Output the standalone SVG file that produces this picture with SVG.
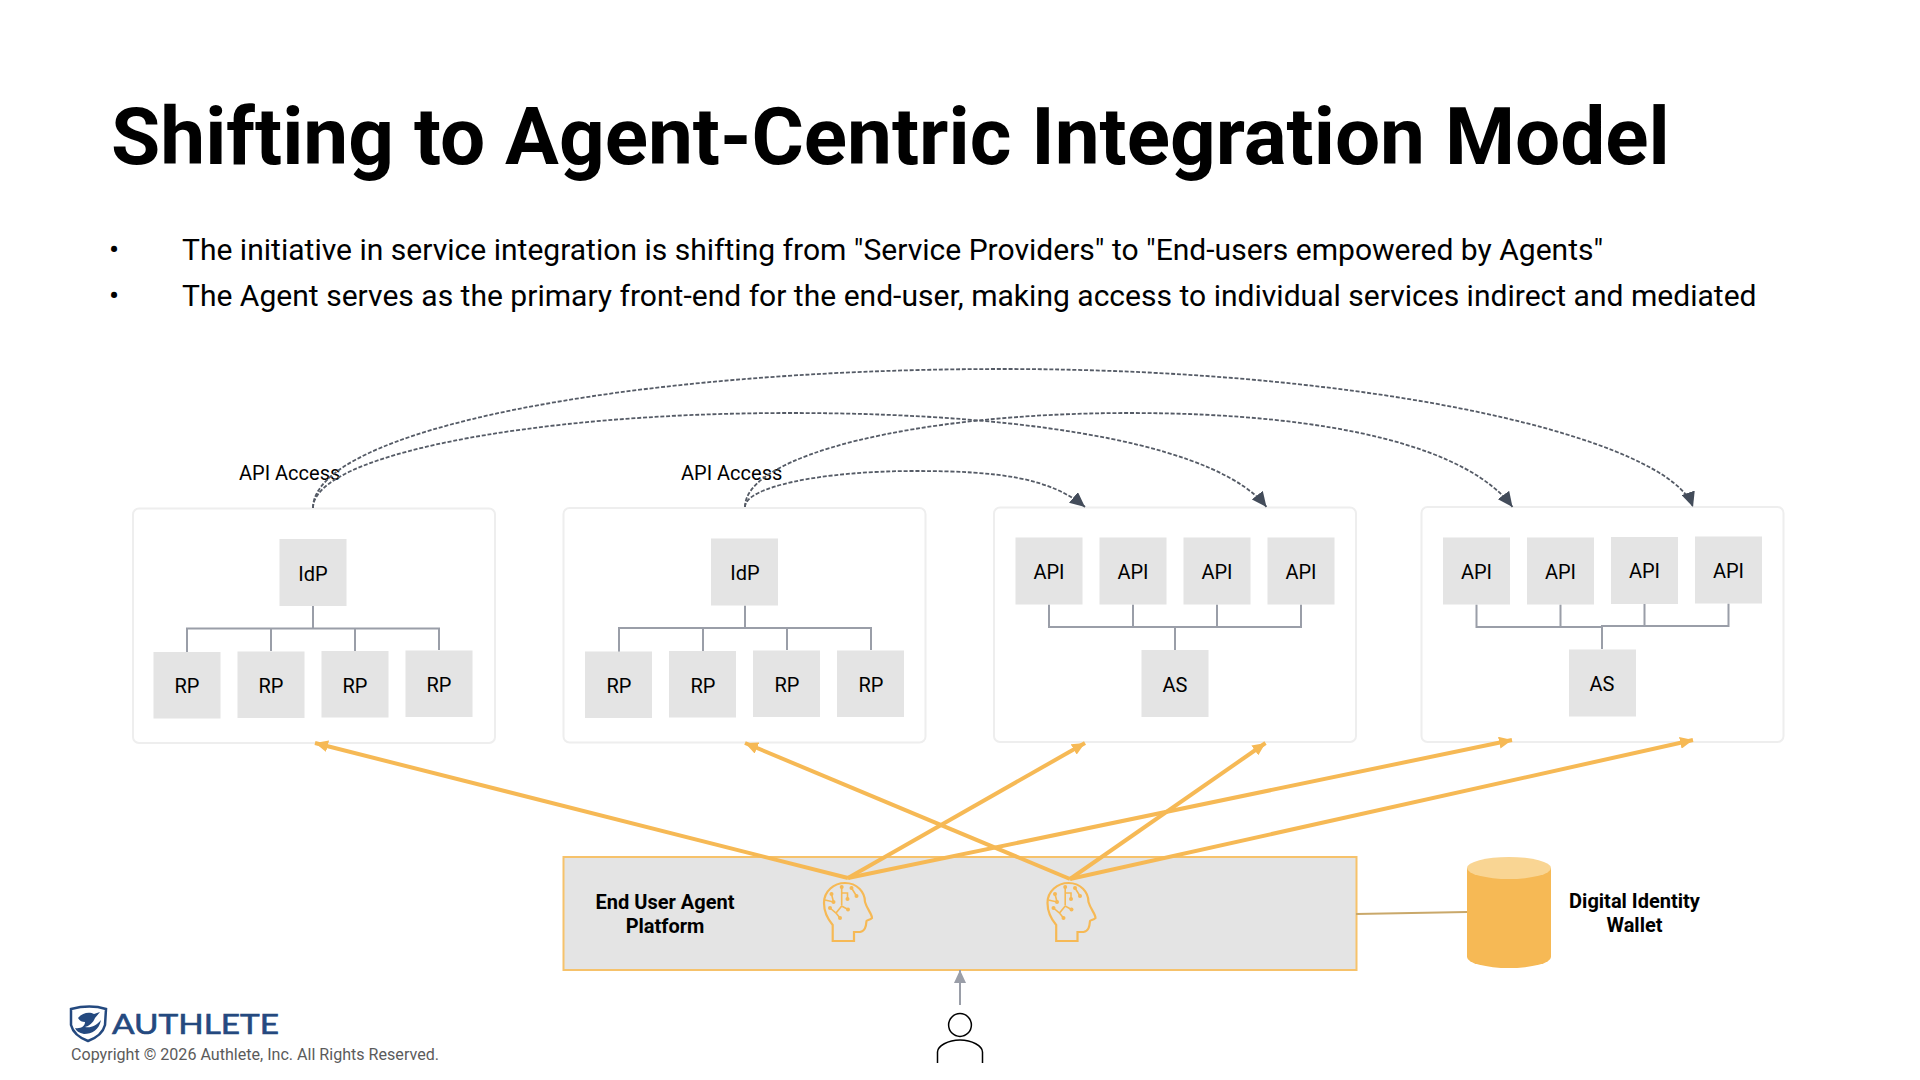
<svg xmlns="http://www.w3.org/2000/svg" width="1920" height="1080" viewBox="0 0 1920 1080">
<style>
text{font-family:Roboto,"Liberation Sans",sans-serif;fill:#000}
.title{font-size:80.100px;font-weight:700}
.bullet{font-size:30.060px}
.lbl{font-size:20px;text-anchor:middle}
.acc{font-size:20px}
.bold{font-size:20px;font-weight:700;text-anchor:middle}
.group{fill:#fff;stroke:#eeeeee;stroke-width:2}
.cell{fill:#e4e4e4}
.tree{fill:none;stroke:#9a9ea8;stroke-width:2}
.dash{fill:none;stroke:#555b66;stroke-width:1.800;stroke-dasharray:4 1.800}
.gold{fill:none;stroke:#f6b955;stroke-width:4}
.ic{fill:none;stroke:#f6b955;stroke-width:2.200}
</style>
<defs>
<marker id="dk" markerUnits="userSpaceOnUse" markerWidth="16" markerHeight="14" refX="15" refY="7" orient="auto"><path d="M0 0L15 7L0 14Z" fill="#434c5a"/></marker>
<marker id="gd" markerUnits="userSpaceOnUse" markerWidth="14" markerHeight="12" refX="13" refY="6" orient="auto"><path d="M0 0L13 6L0 12Z" fill="#f6b955"/></marker>
<marker id="gy" markerUnits="userSpaceOnUse" markerWidth="14" markerHeight="12" refX="13" refY="6" orient="auto"><path d="M0 0L13 6L0 12Z" fill="#9a9ea8"/></marker>
<g id="head">
<path class="ic" d="M832.700 941V925C826 917 824 910 824 903C824 891 834 883 845 883C857 883 865 892 865 902C867 909 872 914 872 918C870 920 867 920 866.500 921C866 927 865 931 860 932L854 932V941Z"/>
<path class="ic" style="stroke-width:1.600" d="M841.700 887V905M841.700 893H847.500V899M851.500 888L856.500 896M831.500 894L833.500 902L825 900M830 908L836 913L841.700 906L848 909.500M836 913L840 918"/>
<g fill="#f6b955"><circle cx="841.700" cy="887" r="2"/><circle cx="847.500" cy="899" r="2"/><circle cx="851.500" cy="888" r="2"/><circle cx="856.500" cy="896" r="2"/><circle cx="831.500" cy="894" r="2"/><circle cx="833.500" cy="902" r="2"/><circle cx="830" cy="908" r="2"/><circle cx="848" cy="909.500" r="2"/><circle cx="840" cy="918" r="2"/></g>
</g>
</defs>
<rect width="1920" height="1080" fill="#fff"/>
<text class="title" x="111" y="164">Shifting to Agent-Centric Integration Model</text>
<text class="bullet" x="109" y="260">•</text>
<text class="bullet" x="182" y="260">The initiative in service integration is shifting from "Service Providers" to "End-users empowered by Agents"</text>
<text class="bullet" x="109" y="306">•</text>
<text class="bullet" x="182" y="306">The Agent serves as the primary front-end for the end-user, making access to individual services indirect and mediated</text>

<g id="idp-group-1">
<rect class="group" x="133" y="508.500" width="362" height="234.500" rx="6"/>
<path class="tree" d="M313 606V628.500M187 652V628.500H439V650M271 651V628.500M355 651V628.500"/>
<rect class="cell" x="279.500" y="539" width="67" height="67"/>
<text class="lbl" x="313" y="581">IdP</text>
<rect class="cell" x="153.500" y="652" width="67" height="66.500"/><text class="lbl" x="187" y="693">RP</text>
<rect class="cell" x="237.500" y="651.500" width="67" height="66.500"/><text class="lbl" x="271" y="693">RP</text>
<rect class="cell" x="321.500" y="651" width="67" height="66.500"/><text class="lbl" x="355" y="693">RP</text>
<rect class="cell" x="405.500" y="650.500" width="67" height="66.500"/><text class="lbl" x="439" y="692">RP</text>
</g>
<g id="idp-group-2">
<rect class="group" x="563.500" y="508" width="362" height="234.500" rx="6"/>
<path class="tree" d="M745 605.500V628M619 652V628H871V650M703 651V628M787 650V628"/>
<rect class="cell" x="711" y="538.500" width="67" height="67"/>
<text class="lbl" x="745" y="580">IdP</text>
<rect class="cell" x="585" y="651.500" width="67" height="66.500"/><text class="lbl" x="619" y="693">RP</text>
<rect class="cell" x="669" y="651" width="67" height="66.500"/><text class="lbl" x="703" y="693">RP</text>
<rect class="cell" x="753" y="650.500" width="67" height="66.500"/><text class="lbl" x="787" y="692">RP</text>
<rect class="cell" x="837" y="650.500" width="67" height="66.500"/><text class="lbl" x="871" y="692">RP</text>
</g>
<g id="api-group-1">
<rect class="group" x="994" y="507.500" width="362" height="234.500" rx="6"/>
<path class="tree" d="M1049 604.500V627H1301V604.500M1133 604.500V627M1217 604.500V627M1175 627V650"/>
<rect class="cell" x="1015.500" y="537.500" width="67" height="67"/><text class="lbl" x="1049" y="579">API</text>
<rect class="cell" x="1099.500" y="537.500" width="67" height="67"/><text class="lbl" x="1133" y="579">API</text>
<rect class="cell" x="1183.500" y="537.500" width="67" height="67"/><text class="lbl" x="1217" y="579">API</text>
<rect class="cell" x="1267.500" y="537.500" width="67" height="67"/><text class="lbl" x="1301" y="579">API</text>
<rect class="cell" x="1141.500" y="650" width="67" height="67"/><text class="lbl" x="1175" y="692">AS</text>
</g>
<g id="api-group-2">
<rect class="group" x="1421.500" y="507" width="362" height="235" rx="6"/>
<path class="tree" d="M1476.500 604.500V627H1602M1560.500 604.500V627M1644.500 603.500V626M1602 649V626H1728.500V603.500"/>
<rect class="cell" x="1443" y="537.500" width="67" height="67"/><text class="lbl" x="1476.500" y="579">API</text>
<rect class="cell" x="1527" y="537.500" width="67" height="67"/><text class="lbl" x="1560.500" y="579">API</text>
<rect class="cell" x="1611" y="537" width="67" height="67"/><text class="lbl" x="1644.500" y="578">API</text>
<rect class="cell" x="1695" y="536.500" width="67" height="67"/><text class="lbl" x="1728.500" y="578">API</text>
<rect class="cell" x="1569" y="649.500" width="67" height="67"/><text class="lbl" x="1602" y="691">AS</text>
</g>
<text class="acc" x="239" y="480">API Access</text>
<text class="acc" x="681" y="480">API Access</text>

<g id="platform">
<rect x="563.500" y="857" width="793" height="113" fill="#e4e4e4" stroke="#f6c26b" stroke-width="2"/>
<text class="bold" x="665" y="909">End User Agent</text>
<text class="bold" x="665" y="933">Platform</text>
</g>
<g id="agent-1"><use href="#head"/></g>
<g id="agent-2"><use href="#head" transform="translate(223.500 0)"/></g>
<g id="wallet">
<path d="M1467 868V957A42 11 0 0 0 1551 957V868Z" fill="#f6b955"/>
<ellipse cx="1509" cy="868" rx="42" ry="11" fill="#f9d593"/>
<text class="bold" x="1634.500" y="908">Digital Identity</text>
<text class="bold" x="1634.500" y="932">Wallet</text>
</g>
<g id="user" fill="none" stroke="#000" stroke-width="1.500">
<circle cx="960" cy="1025" r="11.400"/>
<path d="M937.500 1063V1052C937.500 1046 948 1040 960 1040C972 1040 982.500 1046 982.500 1052V1063"/>
</g>
<g id="connectors">
<path d="M1356 914L1467 912" fill="none" stroke="#c9a86a" stroke-width="2"/>
<path d="M960 1005V970" fill="none" stroke="#9a9ea8" stroke-width="2" marker-end="url(#gy)"/>
<path class="gold" marker-end="url(#gd)" d="M848 878L315 743"/>
<path class="gold" marker-end="url(#gd)" d="M848 878L1085 743"/>
<path class="gold" marker-end="url(#gd)" d="M848 878L1512 740"/>
<path class="gold" marker-end="url(#gd)" d="M1070 879L745 743"/>
<path class="gold" marker-end="url(#gd)" d="M1070 879L1265.500 743"/>
<path class="gold" marker-end="url(#gd)" d="M1070 879L1693 740"/>
<path class="dash" marker-end="url(#dk)" d="M313 508C313 431 622 369 1003 369C1384 369 1670 440 1693 507"/>
<path class="dash" marker-end="url(#dk)" d="M313 508C313 456 527 413 790 413C1053 413 1222 450 1266.500 507"/>
<path class="dash" marker-end="url(#dk)" d="M745 507C745 487 821 471 915 471C1000 471 1050 478 1085 507"/>
<path class="dash" marker-end="url(#dk)" d="M745 507C745 455 917 413 1129 413C1341 413 1470 450 1512.500 507"/>
</g>
<g id="logo">
<path d="M71 1009C83 1006 96 1006 106 1009L105 1025C103 1033 96 1038 88 1041C80 1038 73 1033 71 1025Z" fill="#fff" stroke="#24497f" stroke-width="2.500"/>
<path d="M78 1018C83 1012 90 1012 94 1014L100 1012L95 1018C93 1023 89 1026 85 1027C91 1028 96 1026 101 1020C99 1030 92 1034 84 1034C79 1033 76 1031 75 1028C81 1029 85 1026 85 1022C82 1022 80 1021 78 1018Z" fill="#24497f"/>
<text x="112" y="1034" textLength="167" lengthAdjust="spacingAndGlyphs" style="font-family:Lato,'Open Sans',sans-serif;font-size:27px;font-weight:400;fill:#24497f;stroke:#24497f;stroke-width:.6">AUTHLETE</text>
<text x="71" y="1060" style="font-size:16.080px;fill:#5b5b5b">Copyright © 2026 Authlete, Inc. All Rights Reserved.</text>
</g>
</svg>
